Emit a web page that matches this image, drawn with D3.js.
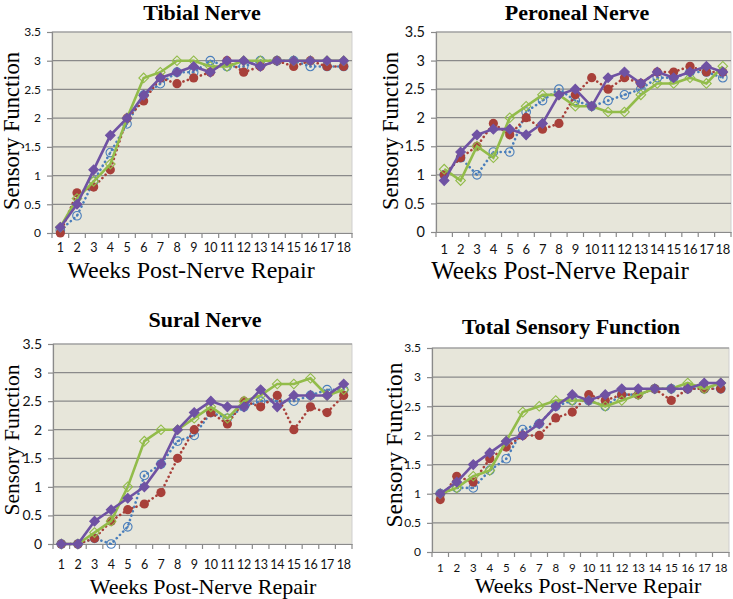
<!DOCTYPE html>
<html>
<head>
<meta charset="utf-8">
<script src="https://cdn.jsdelivr.net/npm/d3@7"></script>
<style>
  body { margin: 0; background: #fff; }
  svg { display: block; }
</style>
</head>
<body>
<svg id="chart" width="733" height="599"></svg>
<script>
// weeks post-nerve repair (categories)
var weeks = [1, 2, 3, 4, 5, 6, 7, 8, 9, 10, 11, 12, 13, 14, 15, 16, 17, 18];
var yTicks = [0, 0.5, 1, 1.5, 2, 2.5, 3, 3.5];

// Tibial nerve
var tibialBlue   = [0.05, 0.3, 0.9, 1.4, 1.9, 2.4, 2.6, 2.8, 2.8, 3.0, 2.9, 2.9, 3.0, 3.0, 3.0, 2.9, 2.9, 2.9];
var tibialRed    = [0, 0.7, 0.8, 1.1, 2.0, 2.3, 2.7, 2.6, 2.7, 2.8, 3.0, 2.8, 2.9, 3.0, 2.9, 3.0, 2.9, 2.9];
var tibialGreen  = [0.1, 0.6, 0.9, 1.2, 2.0, 2.7, 2.8, 3.0, 3.0, 2.9, 2.9, 3.0, 3.0, 3.0, 3.0, 3.0, 3.0, 3.0];
var tibialPurple = [0.1, 0.5, 1.1, 1.7, 2.0, 2.4, 2.7, 2.8, 2.9, 2.8, 3.0, 3.0, 2.9, 3.0, 3.0, 3.0, 3.0, 3.0];

// Peroneal nerve
var peronealBlue   = [1.0, 1.3, 1.0, 1.4, 1.4, 2.1, 2.3, 2.5, 2.3, 2.2, 2.3, 2.4, 2.5, 2.7, 2.7, 2.8, 2.8, 2.7];
var peronealRed    = [1.0, 1.3, 1.5, 1.9, 1.7, 2.0, 1.8, 1.9, 2.4, 2.7, 2.5, 2.7, 2.6, 2.8, 2.8, 2.9, 2.8, 2.8];
var peronealGreen  = [1.1, 0.9, 1.5, 1.3, 2.0, 2.2, 2.4, 2.4, 2.2, 2.2, 2.1, 2.1, 2.4, 2.6, 2.6, 2.7, 2.6, 2.9];
var peronealPurple = [0.9, 1.4, 1.7, 1.8, 1.8, 1.7, 1.9, 2.4, 2.5, 2.2, 2.7, 2.8, 2.6, 2.8, 2.7, 2.8, 2.9, 2.8];

// Sural nerve
var suralBlue   = [0, 0, 0.1, 0, 0.3, 1.2, 1.4, 1.8, 1.9, 2.3, 2.2, 2.4, 2.5, 2.5, 2.5, 2.6, 2.7, 2.7];
var suralRed    = [0, 0, 0.1, 0.4, 0.6, 0.7, 0.9, 1.5, 2.0, 2.3, 2.1, 2.5, 2.4, 2.6, 2.0, 2.4, 2.3, 2.6];
var suralGreen  = [0, 0, 0.2, 0.4, 1.0, 1.8, 2.0, 2.0, 2.2, 2.4, 2.2, 2.5, 2.6, 2.8, 2.8, 2.9, 2.6, 2.7];
var suralPurple = [0, 0, 0.4, 0.6, 0.8, 1.0, 1.4, 2.0, 2.3, 2.5, 2.4, 2.4, 2.7, 2.4, 2.6, 2.6, 2.6, 2.8];

// Total sensory function
var totalBlue   = [1.0, 1.1, 1.1, 1.4, 1.6, 2.1, 2.2, 2.5, 2.6, 2.6, 2.5, 2.7, 2.7, 2.8, 2.8, 2.8, 2.8, 2.8];
var totalRed    = [0.9, 1.3, 1.2, 1.6, 1.8, 2.0, 2.0, 2.3, 2.4, 2.7, 2.6, 2.7, 2.7, 2.8, 2.6, 2.8, 2.8, 2.8];
var totalGreen  = [1.0, 1.1, 1.3, 1.4, 1.9, 2.4, 2.5, 2.6, 2.6, 2.6, 2.5, 2.6, 2.7, 2.8, 2.8, 2.9, 2.8, 2.9];
var totalPurple = [1.0, 1.2, 1.5, 1.7, 1.9, 2.0, 2.2, 2.5, 2.7, 2.6, 2.7, 2.8, 2.8, 2.8, 2.8, 2.8, 2.9, 2.9];

var titles = ["Tibial Nerve", "Peroneal Nerve", "Sural Nerve", "Total Sensory Function"];
var xTitle = "Weeks Post-Nerve Repair";
var yTitle = "Sensory Function";

// series look (draw order: blue, red, green, purple)
var styles = [
  {color: "#4a7ebb", dash: "0.1,4.5", marker: "ring"},
  {color: "#a8403a", dash: "0.1,4.5", marker: "dot"},
  {color: "#92bc4a", dash: null, marker: "openDiamond"},
  {color: "#6f52a3", dash: null, marker: "diamond"}
];

// panel layout (plot rectangles, fonts)
var panels = [
  {series: [tibialBlue, tibialRed, tibialGreen, tibialPurple],
   x0: 52, x1: 352, y0: 32, y1: 233, xtick: 12.5, xtickC: 248, ytick: 12, titleX: 202, titleY: 20,
   xlabX: 191, xlabY: 278, xlabSize: 24, ylabX: 19, ylabY: 131, ylabSize: 22.5},
  {series: [peronealBlue, peronealRed, peronealGreen, peronealPurple],
   x0: 436, x1: 731, y0: 32, y1: 232, xtick: 13, xtickC: 249, ytick: 14.5, titleX: 577, titleY: 20,
   xlabX: 560, xlabY: 279, xlabSize: 25, ylabX: 398, ylabY: 131, ylabSize: 22.5},
  {series: [suralBlue, suralRed, suralGreen, suralPurple],
   x0: 53, x1: 352, y0: 344, y1: 544, xtick: 12.5, xtickC: 565, ytick: 14, titleX: 205, titleY: 327,
   xlabX: 203, xlabY: 594, xlabSize: 22, ylabX: 19, ylabY: 440, ylabSize: 21.5},
  {series: [totalBlue, totalRed, totalGreen, totalPurple],
   x0: 432, x1: 729, y0: 348, y1: 552, xtick: 11.5, xtickC: 568, ytick: 12, titleX: 571, titleY: 334,
   xlabX: 588, xlabY: 593, xlabSize: 22, ylabX: 402, ylabY: 445, ylabSize: 23.5}
];

var svg = d3.select("#chart");
var tickFont = "Lato, 'Liberation Sans', sans-serif";
var serif = "'Liberation Serif', 'Times New Roman', serif";

panels.forEach(function(p, k) {
  var g = svg.append("g");
  var x = d3.scaleBand().domain(weeks).range([p.x0, p.x1]);
  var y = d3.scaleLinear().domain([0, 3.5]).range([p.y1, p.y0]);
  var cx = function(d, i) { return x(weeks[i]) + x.bandwidth() / 2; };

  // plot area
  g.append("rect")
    .attr("x", p.x0).attr("y", p.y0)
    .attr("width", p.x1 - p.x0).attr("height", p.y1 - p.y0)
    .attr("fill", "#e7e6da")
    .attr("stroke", "#cfcfcf");

  // gridlines
  g.selectAll(".grid")
    .data(yTicks.slice(1))
    .enter().append("line")
    .attr("x1", p.x0).attr("x2", p.x1)
    .attr("y1", function(d) { return y(d); })
    .attr("y2", function(d) { return y(d); })
    .attr("stroke", "#8a8a8a")
    .attr("stroke-width", 1.2);

  // y axis
  var ya = g.append("g")
    .attr("transform", "translate(" + p.x0 + ",0)")
    .call(d3.axisLeft(y).tickValues(yTicks).tickSize(5).tickPadding(6).tickFormat(d3.format("")));
  ya.selectAll("path, line").attr("stroke", "#8a8a8a").attr("stroke-width", 1.2);
  ya.selectAll("text").style("font-family", tickFont).style("font-size", p.ytick + "px").attr("fill", "#111");

  // x axis: labels at category centres, tick marks between categories
  var pad = p.xtickC - p.y1 - 0.36 * p.xtick;
  var xa = g.append("g")
    .attr("transform", "translate(0," + p.y1 + ")")
    .call(d3.axisBottom(x).tickSize(0).tickPadding(pad).tickSizeOuter(0));
  xa.select(".domain").attr("stroke", "#8a8a8a").attr("stroke-width", 1.2);
  xa.selectAll("text").style("font-family", tickFont).style("font-size", p.xtick + "px")
    .style("letter-spacing", "-0.3px").attr("fill", "#111");
  g.selectAll(".xt")
    .data(weeks.concat(["end"]))
    .enter().append("line")
    .attr("x1", function(d) { return d === "end" ? p.x1 : x(d); })
    .attr("x2", function(d) { return d === "end" ? p.x1 : x(d); })
    .attr("y1", p.y1).attr("y2", p.y1 + 5)
    .attr("stroke", "#8a8a8a").attr("stroke-width", 1.2);

  // series
  p.series.forEach(function(vals, s) {
    var st = styles[s];
    var line = d3.line().x(cx).y(function(d) { return y(d); });
    g.append("path")
      .datum(vals)
      .attr("d", line)
      .attr("fill", "none")
      .attr("stroke", st.color)
      .attr("stroke-width", 2.6)
      .attr("stroke-linecap", st.dash ? "round" : "butt")
      .attr("stroke-dasharray", st.dash);

    var m = g.selectAll(".m" + s)
      .data(vals)
      .enter().append("g")
      .attr("transform", function(d, i) { return "translate(" + cx(d, i) + "," + y(d) + ")"; });

    if (st.marker === "dot") {
      m.append("circle").attr("r", 4.6).attr("fill", st.color);
    } else if (st.marker === "ring") {
      m.append("circle").attr("r", 4.3).attr("fill", "none").attr("stroke", st.color).attr("stroke-width", 1.1);
      m.append("circle").attr("r", 1.1).attr("fill", st.color);
    } else {
      var sym = d3.symbol(d3.symbolSquare, 46)();
      m.append("path")
        .attr("d", sym)
        .attr("transform", "rotate(45)")
        .attr("fill", st.marker === "diamond" ? st.color : "none")
        .attr("stroke", st.color)
        .attr("stroke-width", 1.1);
    }
  });

  // titles
  svg.append("text")
    .attr("x", p.titleX).attr("y", p.titleY)
    .attr("text-anchor", "middle")
    .style("font-family", serif)
    .style("font-weight", "bold")
    .style("font-size", "22px")
    .text(titles[k]);

  svg.append("text")
    .attr("x", p.xlabX).attr("y", p.xlabY)
    .attr("text-anchor", "middle")
    .style("font-family", serif)
    .style("font-size", p.xlabSize + "px")
    .text(xTitle);

  svg.append("text")
    .attr("transform", "translate(" + p.ylabX + "," + p.ylabY + ") rotate(-90)")
    .attr("text-anchor", "middle")
    .style("font-family", serif)
    .style("font-size", p.ylabSize + "px")
    .text(yTitle);
});
</script>
</body>
</html>
